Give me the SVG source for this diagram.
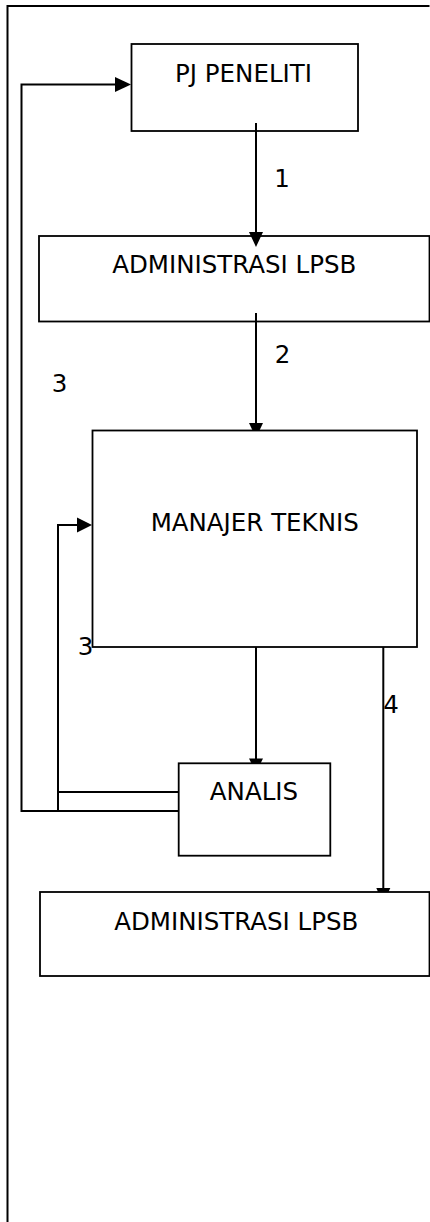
<svg xmlns="http://www.w3.org/2000/svg" width="430" height="1222" viewBox="0 0 430 1222">
<style>
.box{fill:#fff;stroke:#000;stroke-width:1.8}
.lbl{font-family:"DejaVu Sans",Verdana,sans-serif;font-size:24.5px;fill:#000;text-anchor:middle}
.ln{fill:none;stroke:#000;stroke-width:2}
.ah{fill:#000;stroke:none}
</style>
<rect width="430" height="1222" fill="#fff"/>
<path class="ln" d="M7.5,1222 V6 H429.5"/>
<g id="pj-peneliti"><rect class="box" x="131.5" y="44" width="226.5" height="87"/><text class="lbl" x="243.5" y="81.5">PJ PENELITI</text></g>
<g id="administrasi-lpsb-1"><rect class="box" x="39" y="236" width="390.5" height="85.5"/><text class="lbl" x="234.3" y="273">ADMINISTRASI LPSB</text></g>
<g id="manajer-teknis"><rect class="box" x="92.5" y="430.5" width="324.5" height="216.5"/><text class="lbl" x="254.7" y="530.7">MANAJER TEKNIS</text></g>
<g id="analis"><rect class="box" x="178.7" y="763.3" width="151.6" height="92.4"/><text class="lbl" x="254" y="800">ANALIS</text></g>
<g id="administrasi-lpsb-2"><rect class="box" x="40" y="892" width="389.5" height="84"/><text class="lbl" x="236.3" y="930">ADMINISTRASI LPSB</text></g>
<g id="connectors">
<path class="ln" d="M256,123 V233"/>
<polygon class="ah" points="249,232 263,232 256,247"/>
<path class="ln" d="M256,313 V424"/>
<polygon class="ah" points="249,423 263,423 259.7,430 252.3,430"/>
<path class="ln" d="M256,647 V759"/>
<polygon class="ah" points="249,758.5 263,758.5 260.5,763.5 251.5,763.5"/>
<path class="ln" d="M383.3,647 V889"/>
<polygon class="ah" points="376.3,888 390.3,888 388.5,892 378.1,892"/>
<path class="ln" d="M178,811 H21.5 V84.5 H116"/>
<polygon class="ah" points="115,77 131,84.5 115,92"/>
<path class="ln" d="M178,792 H58 M58,812 V525 H78"/>
<polygon class="ah" points="77,517.5 92,525 77,532.5"/>
<text class="lbl" x="282" y="187">1</text>
<text class="lbl" x="282.5" y="363">2</text>
<text class="lbl" x="59.5" y="392">3</text>
<text class="lbl" x="85.5" y="655">3</text>
<text class="lbl" x="391" y="713">4</text>
</g>
</svg>
